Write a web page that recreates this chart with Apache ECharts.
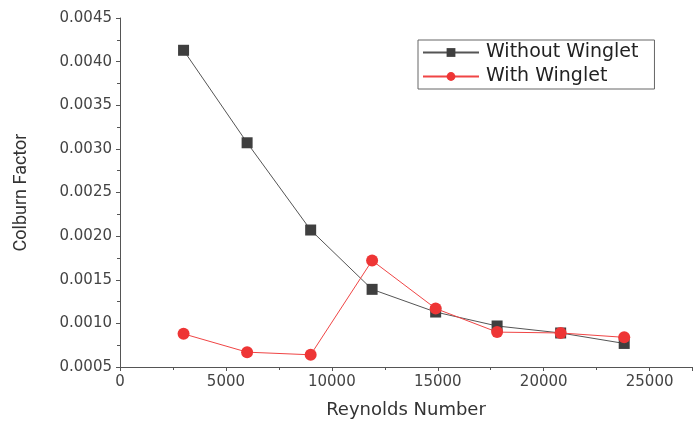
<!DOCTYPE html>
<html><head><meta charset="utf-8">
<script src="https://cdn.jsdelivr.net/npm/echarts@6/dist/echarts.min.js"></script>
<style>html,body{margin:0;padding:0;background:#fff}#c{width:697px;height:424px}</style>
</head><body><div id="c"></div>
<script>
const reynolds = [3000, 6000, 9000, 11900, 14900, 17800, 20800, 23800];
const withoutWinglet = [0.00413, 0.00307, 0.00207, 0.00139, 0.00113, 0.00097, 0.00089, 0.00077];
const withWinglet = [0.00088, 0.00067, 0.00064, 0.00172, 0.00117, 0.00090, 0.00089, 0.00084];
const seriesNames = ['Without Winglet', 'With Winglet'];

const chart = echarts.init(document.getElementById('c'), null, {renderer: 'canvas'});
const axisCol = '#555';
const FF = '"DejaVu Sans", sans-serif';
const lblFont = {color: '#444', fontSize: 15, fontFamily: FF};
chart.setOption({
  animation: false,
  backgroundColor: '#fff',
  grid: {left: 120, right: 5, top: 18, bottom: 56},
  legend: {
    data: seriesNames,
    orient: 'vertical', left: 418, top: 40,
    borderColor: '#666', borderWidth: 1, padding: [3, 16, 3, 4],
    itemWidth: 56, itemHeight: 11, itemGap: 5,
    textStyle: {fontSize: 19, color: '#222', fontFamily: FF, padding: [0,0,0,2]}
  },
  xAxis: {
    type: 'value', min: 0, max: 27000, interval: 5000,
    name: 'Reynolds Number', nameLocation: 'middle', nameGap: 34,
    nameTextStyle: {fontSize: 18, color: '#333', fontFamily: FF},
    axisLine: {show: true, onZero: false, lineStyle: {color: axisCol}},
    axisTick: {show: true, length: 4, lineStyle: {color: axisCol}},
    minorTick: {show: true, splitNumber: 2, length: 3, lineStyle: {color: axisCol}},
    axisLabel: Object.assign({showMaxLabel: false, margin: 8, formatter: v => String(v)}, lblFont),
    splitLine: {show: false}
  },
  yAxis: {
    type: 'value', min: 0.0005, max: 0.0045, interval: 0.0005,
    name: 'Colburn Factor', nameLocation: 'middle', nameGap: 90, nameRotate: 90,
    nameTextStyle: {fontSize: 18, color: '#333', fontFamily: 'Roboto, sans-serif'},
    axisLine: {show: true, onZero: false, lineStyle: {color: axisCol}},
    axisTick: {show: true, length: 4, lineStyle: {color: axisCol}},
    minorTick: {show: true, splitNumber: 2, length: 3, lineStyle: {color: axisCol}},
    axisLabel: Object.assign({margin: 8, formatter: v => v.toFixed(4)}, lblFont),
    splitLine: {show: false}
  },
  series: [
    {
      name: seriesNames[0], type: 'line',
      data: reynolds.map((x, i) => [x, withoutWinglet[i]]),
      symbol: 'rect', symbolSize: 11,
      itemStyle: {color: '#3f3f3f'},
      lineStyle: {color: '#555', width: 1}
    },
    {
      name: seriesNames[1], type: 'line',
      data: reynolds.map((x, i) => [x, withWinglet[i]]),
      symbol: 'circle', symbolSize: 12,
      itemStyle: {color: '#ee3535'},
      lineStyle: {color: '#f04545', width: 1}
    }
  ]
});
</script></body></html>
